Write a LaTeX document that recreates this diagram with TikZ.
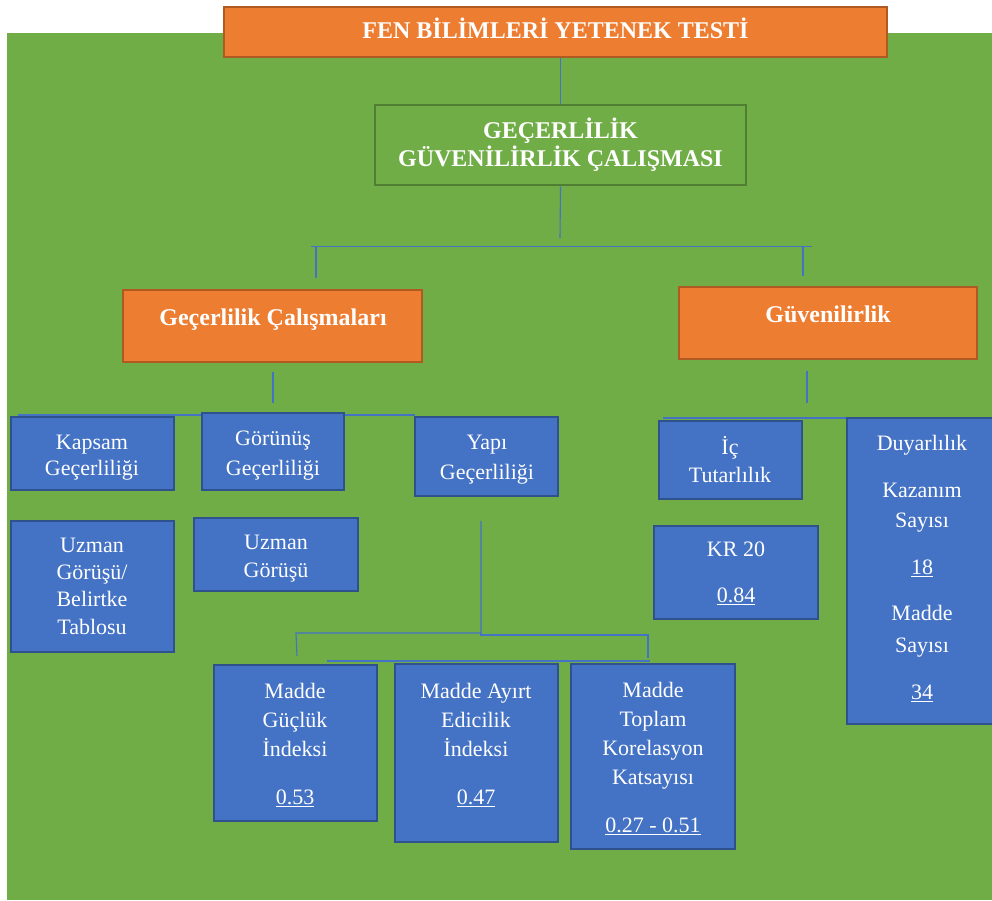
\documentclass[tikz,border=0pt]{standalone}
\usepackage{fontspec}
\setmainfont{Liberation Serif}

\definecolor{bggreen}{HTML}{70AD47}
\definecolor{greenline}{HTML}{507E32}
\definecolor{orangefill}{HTML}{ED7D31}
\definecolor{orangeline}{HTML}{AE5A21}
\definecolor{bluefill}{HTML}{4472C4}
\definecolor{blueline}{HTML}{2F528F}
\definecolor{linkcol}{HTML}{4472C4}

\newcommand\ts{\rule{0pt}{22pt}}
% box from its corners: style, name, x1, y1, x2, y2
\newcommand\panel[6]{\node[#1,minimum width={(#5-#3)*1pt},minimum height={(#6-#4)*1pt}] (#2) at ({(#3+#5)/2},{(#4+#6)/2}) {};}

\tikzset{
  orangebox/.style={draw=orangeline, fill=orangefill, line width=2pt, inner sep=0pt},
  greenbox/.style={draw=greenline, fill=bggreen, line width=2.5pt, inner sep=0pt},
  bluebox/.style={draw=blueline, fill=bluefill, line width=2pt, inner sep=0pt},
  link/.style={draw=linkcol, line width=1.1pt},
  txt/.style={text=white, align=center, anchor=north, inner sep=0pt, font=\fontsize{22}{28}\selectfont},
  head/.style={txt, font=\bfseries\fontsize{24}{28}\selectfont},
}

\begin{document}
\begin{tikzpicture}[x=1pt,y=-1pt]
\path[use as bounding box] (0,0) rectangle (992,900);
\clip (0,0) rectangle (992,900);
\fill[white] (0,0) rectangle (992,900);
\fill[bggreen] (7,33) rectangle (992,900);

% free ends of the connector lines
\coordinate (hubA) at (560,238);
\coordinate (barAL) at (311,246.5);
\coordinate (barAR) at (812,246.5);
\coordinate (tickL0) at (316,246.5);
\coordinate (tickL1) at (316,278);
\coordinate (tickR0) at (803,246.5);
\coordinate (tickR1) at (803,276);
\coordinate (gcA) at (273,372);
\coordinate (gcB) at (273,403);
\coordinate (barBL) at (18,415);
\coordinate (barBR) at (415,415);
\coordinate (gvA) at (807,371);
\coordinate (gvB) at (807,403);
\coordinate (barCL) at (663,418);
\coordinate (barCR) at (968,418);
\coordinate (ypA) at (481,521);
\coordinate (ypB) at (481,633);
\coordinate (ypC) at (481,635);
\coordinate (ypL) at (296,633);
\coordinate (ypLd) at (297,656);
\coordinate (ypR) at (648,635);
\coordinate (ypRd) at (648,658);
\coordinate (topL) at (327,661);
\coordinate (topR) at (650,661);

% connectors drawn under the boxes
\draw[link] (barBL) -- (barBR);
\draw[link] (barCL) -- (barCR);
\draw[link] (topL) -- (topR);

% boxes
\panel{orangebox}{title}{224}{7}{887}{57}
\panel{greenbox}{study}{375}{105}{746}{185}
\panel{orangebox}{valid}{123}{290}{422}{362}
\panel{orangebox}{reliab}{679}{287}{977}{359}
\panel{bluebox}{kapsam}{11}{417}{174}{490}
\panel{bluebox}{gorunus}{202}{413}{344}{490}
\panel{bluebox}{yapi}{415}{417}{558}{496}
\panel{bluebox}{uzmanA}{11}{521}{174}{652}
\panel{bluebox}{uzmanB}{194}{518}{358}{591}
\panel{bluebox}{guclu}{214}{665}{377}{821}
\panel{bluebox}{ayirt}{395}{664}{558}{842}
\panel{bluebox}{toplam}{571}{664}{735}{849}
\panel{bluebox}{ic}{659}{421}{802}{499}
\panel{bluebox}{kr}{654}{526}{818}{619}
\panel{bluebox}{duyar}{847}{418}{1000}{724}

% connectors
\draw[link] (study.north |- title.south) -- (study.north);
\draw[link] (study.south) -- (hubA);
\draw[link] (barAL) -- (barAR);
\draw[link] (tickL0) -- (tickL1);
\draw[link] (tickR0) -- (tickR1);
\draw[link] (gcA) -- (gcB);
\draw[link] (gvA) -- (gvB);
\draw[link] (ypA) -- (ypB) -- (ypL) -- (ypLd);
\draw[link] (ypB) -- (ypC) -- (ypR) -- (ypRd);

% texts
\node[head] (titleT) at (555.5,31-15) {\ts FEN BİLİMLERİ YETENEK TESTİ};
\node[head] (studyT) at (560.5,131-15) {\ts GEÇERLİLİK\\GÜVENİLİRLİK ÇALIŞMASI};
\node[head] (validT) at (273,318-15) {\ts Geçerlilik Çalışmaları};
\node[head] (reliabT) at (828,315-15) {\ts Güvenilirlik};
\node[txt, font=\fontsize{22}{26}\selectfont] (kapsamT) at (92,442-15) {\ts Kapsam\\Geçerliliği};
\node[txt, font=\fontsize{22}{30}\selectfont] (gorunusT) at (273,438-15) {\ts Görünüş\\Geçerliliği};
\node[txt, font=\fontsize{22}{30}\selectfont] (yapiT) at (487,442-15) {\ts Yapı\\Geçerliliği};
\node[txt, font=\fontsize{22}{27.3}\selectfont] (uzmanAT) at (92,545-15) {\ts Uzman\\Görüşü/\\Belirtke\\Tablosu};
\node[txt] (uzmanBT) at (276,542-15) {\ts Uzman\\Görüşü};
\node[txt, font=\fontsize{22}{29}\selectfont] (gucluT) at (295,691-15) {\ts Madde\\Güçlük\\İndeksi\\[19pt]\underline{0.53}};
\node[txt, font=\fontsize{22}{29}\selectfont] (ayirtT) at (476,691-15) {\ts Madde Ayırt\\Edicilik\\İndeksi\\[19pt]\underline{0.47}};
\node[txt, font=\fontsize{22}{29}\selectfont] (toplamT) at (653,690-15) {\ts Madde\\Toplam\\Korelasyon\\Katsayısı\\[19pt]\underline{0.27 - 0.51}};
\node[txt] (icT) at (730,447-15) {\ts İç\\Tutarlılık};
\node[txt, font=\fontsize{22}{46}\selectfont] (krT) at (736,549-15) {\ts KR 20\\\underline{0.84}};
\node[txt, font=\fontsize{22}{30}\selectfont] (duyarT) at (922,443-15) {\ts Duyarlılık\\[17pt]Kazanım\\Sayısı\\[17pt]\underline{18}\\[16pt]Madde\\[2pt]Sayısı\\[17pt]\underline{34}};
\end{tikzpicture}
\end{document}
